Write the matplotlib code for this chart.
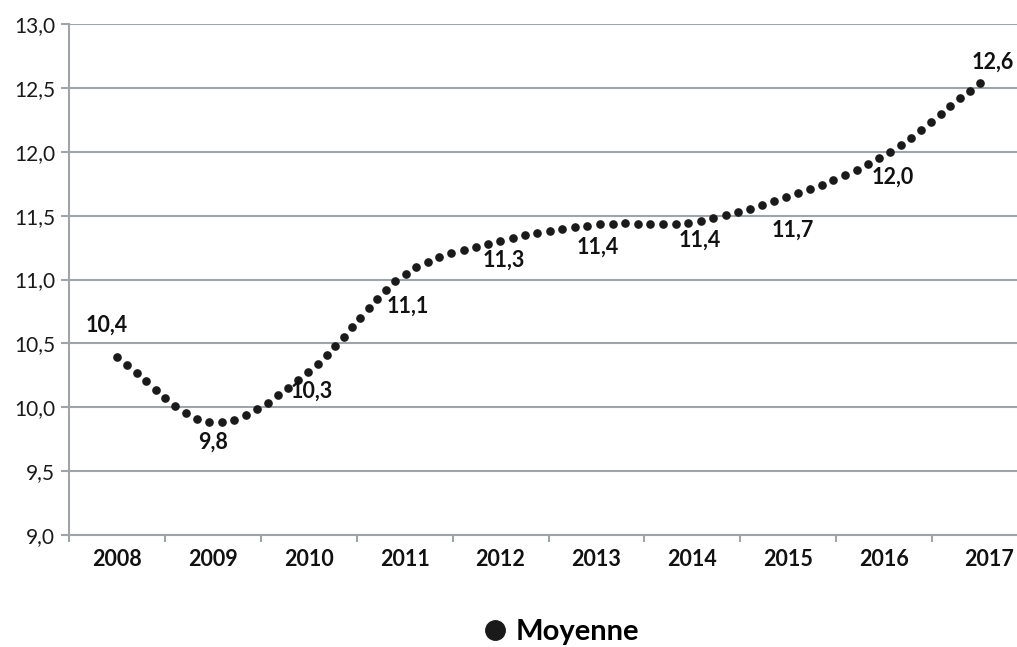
import numpy as np
import matplotlib
matplotlib.use("Agg")
import matplotlib.pyplot as plt
from matplotlib.lines import Line2D
from matplotlib import font_manager as fm
import matplotlib.transforms as mtrans

years = ["2008", "2009", "2010", "2011", "2012", "2013", "2014", "2015", "2016", "2017"]
moyenne = [10.39, 9.88, 10.28, 11.04, 11.30, 11.43, 11.45, 11.65, 11.97, 12.54]
labels = ["10,4", "9,8", "10,3", "11,1", "11,3", "11,4", "11,4", "11,7", "12,0", "12,6"]
yticks = [9.0, 9.5, 10.0, 10.5, 11.0, 11.5, 12.0, 12.5, 13.0]
ytick_labels = ["9,0", "9,5", "10,0", "10,5", "11,0", "11,5", "12,0", "12,5", "13,0"]
series_name = "Moyenne"

# label offsets in pixels (dx right, dy down)
label_offsets = [(-10, -32), (0, 20), (3, 20), (3, 32), (3, 19), (1, 23), (7, 18), (5, 34), (9, 22), (13, -21)]

names = {f.name for f in fm.fontManager.ttflist}
bold_font = "Liberation Sans Narrow" if "Liberation Sans Narrow" in names else "Lato"
reg_font = "Lato" if "Lato" in names else "DejaVu Sans"

W, H = 1017, 647
fig = plt.figure(figsize=(W / 100, H / 100), dpi=100)
left_px, right_px, top_px, bot_px = 69, 1028, 24, 535
ax = fig.add_axes([left_px / W, 1 - bot_px / H, (right_px - left_px) / W, (bot_px - top_px) / H])
ax.set_xlim(-0.5, len(years) - 0.5)
ax.set_ylim(9.0, 13.0)

grid_c = "#A0A4A8"
ax.set_yticks(yticks)
ax.set_yticklabels(ytick_labels, fontfamily=reg_font, fontsize=15, color="#1a1a1a")
ax.yaxis.grid(True, color=grid_c, lw=1.5)
ax.set_axisbelow(True)
ax.tick_params(axis="y", length=6, width=1.5, color=grid_c, pad=4)

ax.set_xticks(range(len(years)))
ax.set_xticklabels(years, fontfamily=bold_font, fontweight="bold", fontsize=15.5, color="#111111")
ax.set_xticks(np.arange(-0.5, len(years), 1.0), minor=True)
ax.tick_params(axis="x", which="major", length=0, pad=10)
ax.tick_params(axis="x", which="minor", length=5, width=1.5, color=grid_c)
last = ax.get_xticklabels()[-1]
last.set_transform(last.get_transform() + mtrans.ScaledTranslation(9 / 100, 0, fig.dpi_scale_trans))

for s in ["top", "right"]:
    ax.spines[s].set_visible(False)
for s in ["left", "bottom"]:
    ax.spines[s].set_color(grid_c)
    ax.spines[s].set_linewidth(1.5)

# smooth curve (Catmull-Rom) in display space, then dots at equal arc length
xs = np.arange(len(years), dtype=float)
pts = ax.transData.transform(np.column_stack([xs, moyenne]))
P = np.vstack([pts[0] - (pts[1] - pts[0]), pts, pts[-1] + (pts[-1] - pts[-2])])
curve = []
tt = np.linspace(0, 1, 200)[:, None]
for i in range(1, len(P) - 2):
    p0, p1, p2, p3 = P[i - 1], P[i], P[i + 1], P[i + 2]
    seg = 0.5 * ((2 * p1) + (-p0 + p2) * tt + (2 * p0 - 5 * p1 + 4 * p2 - p3) * tt ** 2
                 + (-p0 + 3 * p1 - 3 * p2 + p3) * tt ** 3)
    curve.append(seg if i == 1 else seg[1:])
curve = np.vstack(curve)
d = np.r_[0, np.cumsum(np.hypot(*np.diff(curve, axis=0).T))]
n = int(round(d[-1] / 12.7))
s = np.linspace(0, d[-1], n + 1)
dots = np.column_stack([np.interp(s, d, curve[:, 0]), np.interp(s, d, curve[:, 1])])
dd = ax.transData.inverted().transform(dots)
ax.plot(dd[:, 0], dd[:, 1], ls="none", marker="o", ms=5.2, color="#1a1a1a", clip_on=False)

for i, (lab, (dx, dy)) in enumerate(zip(labels, label_offsets)):
    ax.annotate(lab, (xs[i], moyenne[i]), xytext=(dx * 0.72, -dy * 0.72), textcoords="offset points",
                ha="center", va="center", fontfamily=bold_font, fontweight="bold", fontsize=15.5,
                color="#111111")

handle = Line2D([], [], ls="none", marker="o", ms=14, color="#1a1a1a")
fig.legend([handle], [series_name], loc="center", bbox_to_anchor=(560 / W, 1 - 632 / H),
           frameon=False, handletextpad=0.2, handlelength=1.0,
           prop={"family": bold_font, "weight": "bold", "size": 21})

fig.savefig("out.png", dpi=100)
